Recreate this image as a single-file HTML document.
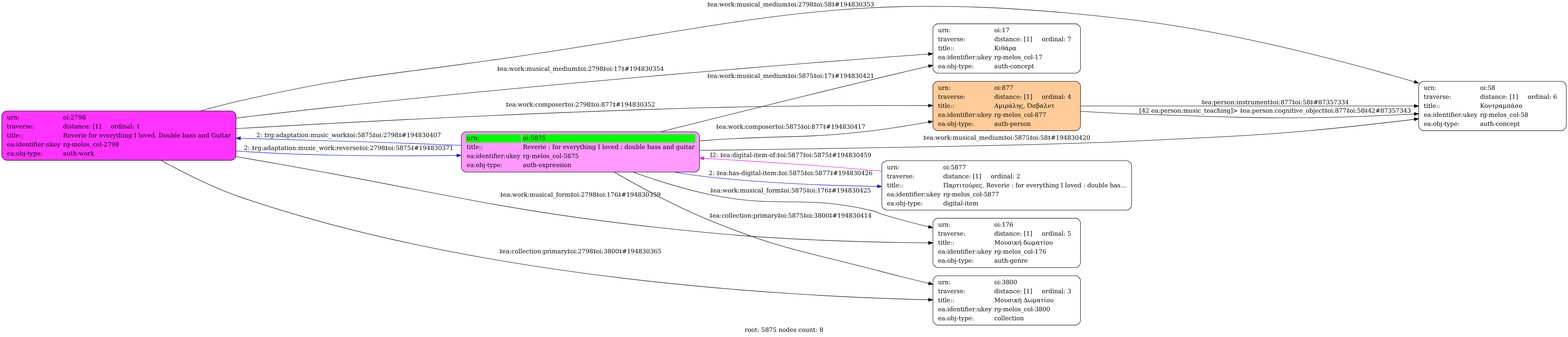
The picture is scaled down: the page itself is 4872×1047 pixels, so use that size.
<!DOCTYPE html>
<html><head><meta charset="utf-8"><title>graph</title>
<style>html,body{margin:0;padding:0;background:#fff}svg{display:block;will-change:transform}text{text-rendering:geometricPrecision}</style>
</head><body>
<svg width="4872" height="1047" viewBox="0 0 3654 785.25">
<g id="graph0" class="graph" transform="scale(1 1) rotate(0) translate(4 781)">
<polygon fill="white" stroke="transparent" points="-4,4 -4,-781 3650,-781 3650,4 -4,4"/>
<text text-anchor="middle" x="1823" y="-7.8" font-family="DejaVu Serif, serif" font-size="14.00">root: 5875 nodes count: 8</text>
<g id="node1" class="node">
<path fill="white" stroke="black" d="M2182,-725.5H2502C2508,-725.5 2514,-719.5 2514,-713.5V-622.5C2514,-616.5 2508,-610.5 2502,-610.5H2182C2176,-610.5 2170,-616.5 2170,-622.5V-713.5C2170,-719.5 2176,-725.5 2182,-725.5Z"/>
<text text-anchor="start" x="2182" y="-705.8" font-family="DejaVu Serif, serif" font-size="14.00">urn:</text>
<text text-anchor="start" x="2313" y="-705.8" font-family="DejaVu Serif, serif" font-size="14.00">oi:17</text>
<text text-anchor="start" x="2182" y="-684.8" font-family="DejaVu Serif, serif" font-size="14.00">traverse:</text>
<text text-anchor="start" x="2313" y="-684.8" font-family="DejaVu Serif, serif" font-size="14.00">distance: [1]     ordinal: 7  </text>
<text text-anchor="start" x="2182" y="-663.8" font-family="DejaVu Serif, serif" font-size="14.00">title::</text>
<text text-anchor="start" x="2313" y="-663.8" font-family="DejaVu Serif, serif" font-size="14.00">Κιθάρα</text>
<text text-anchor="start" x="2182" y="-642.8" font-family="DejaVu Serif, serif" font-size="14.00">ea:identifier:ukey</text>
<text text-anchor="start" x="2313" y="-642.8" font-family="DejaVu Serif, serif" font-size="14.00">rg&#45;melos_col&#45;17</text>
<text text-anchor="start" x="2182" y="-621.8" font-family="DejaVu Serif, serif" font-size="14.00">ea:obj&#45;type:</text>
<text text-anchor="start" x="2313" y="-621.8" font-family="DejaVu Serif, serif" font-size="14.00">auth&#45;concept</text>
</g>
<g id="node2" class="node">
<path fill="#ff33ff" stroke="black" d="M12,-522.5H534C540,-522.5 546,-516.5 546,-510.5V-419.5C546,-413.5 540,-407.5 534,-407.5H12C6,-407.5 0,-413.5 0,-419.5V-510.5C0,-516.5 6,-522.5 12,-522.5Z"/>
<text text-anchor="start" x="12" y="-502.8" font-family="DejaVu Serif, serif" font-size="14.00">urn:</text>
<text text-anchor="start" x="143" y="-502.8" font-family="DejaVu Serif, serif" font-size="14.00">oi:2798</text>
<text text-anchor="start" x="12" y="-481.8" font-family="DejaVu Serif, serif" font-size="14.00">traverse:</text>
<text text-anchor="start" x="143" y="-481.8" font-family="DejaVu Serif, serif" font-size="14.00">distance: [1]     ordinal: 1  </text>
<text text-anchor="start" x="12" y="-460.8" font-family="DejaVu Serif, serif" font-size="14.00">title::</text>
<text text-anchor="start" x="143" y="-460.8" font-family="DejaVu Serif, serif" font-size="14.00" textLength="390.8" lengthAdjust="spacing">Reverie for everything I loved. Double bass and Guitar</text>
<text text-anchor="start" x="12" y="-439.8" font-family="DejaVu Serif, serif" font-size="14.00">ea:identifier:ukey</text>
<text text-anchor="start" x="143" y="-439.8" font-family="DejaVu Serif, serif" font-size="14.00">rg&#45;melos_col&#45;2798</text>
<text text-anchor="start" x="12" y="-418.8" font-family="DejaVu Serif, serif" font-size="14.00">ea:obj&#45;type:</text>
<text text-anchor="start" x="143" y="-418.8" font-family="DejaVu Serif, serif" font-size="14.00">auth&#45;work</text>
</g>
<g id="edge12" class="edge">
<path fill="none" stroke="black" d="M546.01,-505.81C552.06,-506.56 558.06,-507.29 564,-508 1145.55,-577.24 1837.39,-631.48 2159.38,-655.11"/>
<polygon fill="black" stroke="black" points="2159.51,-658.63 2169.74,-655.87 2160.02,-651.65 2159.51,-658.63"/>
<text text-anchor="middle" x="1348.5" y="-615.8" font-family="DejaVu Serif, serif" font-size="14.00">‡ea:work:musical_medium‡oi:2798‡oi:17‡#194830354</text>
</g>
<g id="node3" class="node">
<path fill="white" stroke="black" d="M3314,-591.5H3634C3640,-591.5 3646,-585.5 3646,-579.5V-488.5C3646,-482.5 3640,-476.5 3634,-476.5H3314C3308,-476.5 3302,-482.5 3302,-488.5V-579.5C3302,-585.5 3308,-591.5 3314,-591.5Z"/>
<text text-anchor="start" x="3314" y="-571.8" font-family="DejaVu Serif, serif" font-size="14.00">urn:</text>
<text text-anchor="start" x="3445" y="-571.8" font-family="DejaVu Serif, serif" font-size="14.00">oi:58</text>
<text text-anchor="start" x="3314" y="-550.8" font-family="DejaVu Serif, serif" font-size="14.00">traverse:</text>
<text text-anchor="start" x="3445" y="-550.8" font-family="DejaVu Serif, serif" font-size="14.00">distance: [1]     ordinal: 6  </text>
<text text-anchor="start" x="3314" y="-529.8" font-family="DejaVu Serif, serif" font-size="14.00">title::</text>
<text text-anchor="start" x="3445" y="-529.8" font-family="DejaVu Serif, serif" font-size="14.00">Κοντραμπάσο</text>
<text text-anchor="start" x="3314" y="-508.8" font-family="DejaVu Serif, serif" font-size="14.00">ea:identifier:ukey</text>
<text text-anchor="start" x="3445" y="-508.8" font-family="DejaVu Serif, serif" font-size="14.00">rg&#45;melos_col&#45;58</text>
<text text-anchor="start" x="3314" y="-487.8" font-family="DejaVu Serif, serif" font-size="14.00">ea:obj&#45;type:</text>
<text text-anchor="start" x="3445" y="-487.8" font-family="DejaVu Serif, serif" font-size="14.00">auth&#45;concept</text>
</g>
<g id="edge16" class="edge">
<path fill="none" stroke="black" d="M465.06,-523.09C497.9,-532.09 531.81,-540.78 564,-548 786.8,-597.94 844.71,-600.5 1071,-631 1760.52,-723.95 1942.03,-816.52 2633,-735 2863.99,-707.75 3123.45,-639.73 3292.08,-590.35"/>
<polygon fill="black" stroke="black" points="3293.19,-593.67 3301.79,-587.49 3291.21,-586.95 3293.19,-593.67"/>
<text text-anchor="middle" x="1838.5" y="-765.8" font-family="DejaVu Serif, serif" font-size="14.00">‡ea:work:musical_medium‡oi:2798‡oi:58‡#194830353</text>
</g>
<g id="node4" class="node">
<path fill="#ffcc99" stroke="black" d="M2182,-591.5H2502C2508,-591.5 2514,-585.5 2514,-579.5V-488.5C2514,-482.5 2508,-476.5 2502,-476.5H2182C2176,-476.5 2170,-482.5 2170,-488.5V-579.5C2170,-585.5 2176,-591.5 2182,-591.5Z"/>
<text text-anchor="start" x="2182" y="-571.8" font-family="DejaVu Serif, serif" font-size="14.00">urn:</text>
<text text-anchor="start" x="2313" y="-571.8" font-family="DejaVu Serif, serif" font-size="14.00">oi:877</text>
<text text-anchor="start" x="2182" y="-550.8" font-family="DejaVu Serif, serif" font-size="14.00">traverse:</text>
<text text-anchor="start" x="2313" y="-550.8" font-family="DejaVu Serif, serif" font-size="14.00">distance: [1]     ordinal: 4  </text>
<text text-anchor="start" x="2182" y="-529.8" font-family="DejaVu Serif, serif" font-size="14.00">title::</text>
<text text-anchor="start" x="2313" y="-529.8" font-family="DejaVu Serif, serif" font-size="14.00">Αμιράλης, Όσβαλντ</text>
<text text-anchor="start" x="2182" y="-508.8" font-family="DejaVu Serif, serif" font-size="14.00">ea:identifier:ukey</text>
<text text-anchor="start" x="2313" y="-508.8" font-family="DejaVu Serif, serif" font-size="14.00">rg&#45;melos_col&#45;877</text>
<text text-anchor="start" x="2182" y="-487.8" font-family="DejaVu Serif, serif" font-size="14.00">ea:obj&#45;type:</text>
<text text-anchor="start" x="2313" y="-487.8" font-family="DejaVu Serif, serif" font-size="14.00">auth&#45;person</text>
</g>
<g id="edge4" class="edge">
<path fill="none" stroke="black" d="M546.16,-481.26C822.52,-496.98 1262.85,-519.87 1644,-530 1819.13,-534.66 2019.09,-535.32 2159.79,-535.03"/>
<polygon fill="black" stroke="black" points="2159.83,-538.53 2169.82,-535 2159.81,-531.53 2159.83,-538.53"/>
<text text-anchor="middle" x="1348.5" y="-532.8" font-family="DejaVu Serif, serif" font-size="14.00">‡ea:work:composer‡oi:2798‡oi:877‡#194830352</text>
</g>
<g id="node5" class="node">
<path fill="#ff99ff" stroke="black" d="M1083,-474H1614C1620,-474 1626,-468 1626,-462V-392C1626,-386 1620,-380 1614,-380H1083C1077,-380 1071,-386 1071,-392V-462C1071,-468 1077,-474 1083,-474Z"/>
<polygon fill="#00ff00" stroke="transparent" points="1081.5,-449 1081.5,-468 1210.5,-468 1210.5,-449 1081.5,-449"/>
<text text-anchor="start" x="1083.5" y="-454.8" font-family="DejaVu Serif, serif" font-size="14.00">urn:</text>
<polygon fill="#00ff00" stroke="transparent" points="1212.5,-449 1212.5,-468 1616.5,-468 1616.5,-449 1212.5,-449"/>
<text text-anchor="start" x="1214.5" y="-454.8" font-family="DejaVu Serif, serif" font-size="14.00">oi:5875</text>
<text text-anchor="start" x="1083.5" y="-433.8" font-family="DejaVu Serif, serif" font-size="14.00">title::</text>
<text text-anchor="start" x="1214.5" y="-433.8" font-family="DejaVu Serif, serif" font-size="14.00" textLength="400.25" lengthAdjust="spacing">Reverie : for everything I loved : double bass and guitar</text>
<text text-anchor="start" x="1083.5" y="-412.8" font-family="DejaVu Serif, serif" font-size="14.00">ea:identifier:ukey</text>
<text text-anchor="start" x="1214.5" y="-412.8" font-family="DejaVu Serif, serif" font-size="14.00">rg&#45;melos_col&#45;5875</text>
<text text-anchor="start" x="1083.5" y="-391.8" font-family="DejaVu Serif, serif" font-size="14.00">ea:obj&#45;type:</text>
<text text-anchor="start" x="1214.5" y="-391.8" font-family="DejaVu Serif, serif" font-size="14.00">auth&#45;expression</text>
</g>
<g id="edge14" class="edge">
<path fill="none" stroke="blue" d="M546.36,-429.24C552.29,-428.79 558.18,-428.37 564,-428 728.21,-417.46 912.18,-416.66 1060.57,-418.75"/>
<polygon fill="blue" stroke="blue" points="1060.69,-422.25 1070.74,-418.89 1060.79,-415.25 1060.69,-422.25"/>
<text text-anchor="middle" x="808.5" y="-431.8" font-family="DejaVu Serif, serif" font-size="14.00">2: ‡rg:adaptation:music_work:reverse‡oi:2798‡oi:5875‡#194830371</text>
</g>
<g id="node6" class="node">
<path fill="white" stroke="black" d="M2182,-272.5H2502C2508,-272.5 2514,-266.5 2514,-260.5V-169.5C2514,-163.5 2508,-157.5 2502,-157.5H2182C2176,-157.5 2170,-163.5 2170,-169.5V-260.5C2170,-266.5 2176,-272.5 2182,-272.5Z"/>
<text text-anchor="start" x="2182" y="-252.8" font-family="DejaVu Serif, serif" font-size="14.00">urn:</text>
<text text-anchor="start" x="2313" y="-252.8" font-family="DejaVu Serif, serif" font-size="14.00">oi:176</text>
<text text-anchor="start" x="2182" y="-231.8" font-family="DejaVu Serif, serif" font-size="14.00">traverse:</text>
<text text-anchor="start" x="2313" y="-231.8" font-family="DejaVu Serif, serif" font-size="14.00">distance: [1]     ordinal: 5  </text>
<text text-anchor="start" x="2182" y="-210.8" font-family="DejaVu Serif, serif" font-size="14.00">title::</text>
<text text-anchor="start" x="2313" y="-210.8" font-family="DejaVu Serif, serif" font-size="14.00">Μουσική δωματίου</text>
<text text-anchor="start" x="2182" y="-189.8" font-family="DejaVu Serif, serif" font-size="14.00">ea:identifier:ukey</text>
<text text-anchor="start" x="2313" y="-189.8" font-family="DejaVu Serif, serif" font-size="14.00">rg&#45;melos_col&#45;176</text>
<text text-anchor="start" x="2182" y="-168.8" font-family="DejaVu Serif, serif" font-size="14.00">ea:obj&#45;type:</text>
<text text-anchor="start" x="2313" y="-168.8" font-family="DejaVu Serif, serif" font-size="14.00">auth&#45;genre</text>
</g>
<g id="edge3" class="edge">
<path fill="none" stroke="black" d="M546.04,-416.07C552.08,-415.03 558.08,-414.01 564,-413 1043.3,-331.43 1160.1,-286.12 1644,-239 1818.61,-222 2018.86,-216.55 2159.77,-215.03"/>
<polygon fill="black" stroke="black" points="2159.85,-218.53 2169.82,-214.93 2159.78,-211.53 2159.85,-218.53"/>
<text text-anchor="middle" x="1348.5" y="-322.8" font-family="DejaVu Serif, serif" font-size="14.00">‡ea:work:musical_form‡oi:2798‡oi:176‡#194830359</text>
</g>
<g id="node7" class="node">
<path fill="white" stroke="black" d="M2182,-138.5H2502C2508,-138.5 2514,-132.5 2514,-126.5V-35.5C2514,-29.5 2508,-23.5 2502,-23.5H2182C2176,-23.5 2170,-29.5 2170,-35.5V-126.5C2170,-132.5 2176,-138.5 2182,-138.5Z"/>
<text text-anchor="start" x="2182" y="-118.8" font-family="DejaVu Serif, serif" font-size="14.00">urn:</text>
<text text-anchor="start" x="2313" y="-118.8" font-family="DejaVu Serif, serif" font-size="14.00">oi:3800</text>
<text text-anchor="start" x="2182" y="-97.8" font-family="DejaVu Serif, serif" font-size="14.00">traverse:</text>
<text text-anchor="start" x="2313" y="-97.8" font-family="DejaVu Serif, serif" font-size="14.00">distance: [1]     ordinal: 3  </text>
<text text-anchor="start" x="2182" y="-76.8" font-family="DejaVu Serif, serif" font-size="14.00">title::</text>
<text text-anchor="start" x="2313" y="-76.8" font-family="DejaVu Serif, serif" font-size="14.00">Μουσική Δωματίου</text>
<text text-anchor="start" x="2182" y="-55.8" font-family="DejaVu Serif, serif" font-size="14.00">ea:identifier:ukey</text>
<text text-anchor="start" x="2313" y="-55.8" font-family="DejaVu Serif, serif" font-size="14.00">rg&#45;melos_col&#45;3800</text>
<text text-anchor="start" x="2182" y="-34.8" font-family="DejaVu Serif, serif" font-size="14.00">ea:obj&#45;type:</text>
<text text-anchor="start" x="2313" y="-34.8" font-family="DejaVu Serif, serif" font-size="14.00">collection</text>
</g>
<g id="edge11" class="edge">
<path fill="none" stroke="black" d="M371.99,-406.97C426.82,-376.75 497.38,-341.51 564,-319 1124.56,-129.61 1832.44,-90.26 2159.77,-82.54"/>
<polygon fill="black" stroke="black" points="2159.9,-86.04 2169.82,-82.31 2159.74,-79.04 2159.9,-86.04"/>
<text text-anchor="middle" x="1348.5" y="-190.8" font-family="DejaVu Serif, serif" font-size="14.00">‡ea:collection:primary‡oi:2798‡oi:3800‡#194830365</text>
</g>
<g id="edge5" class="edge">
<path fill="none" stroke="black" d="M2514.39,-521.6C2558.85,-518.9 2606.7,-516.3 2651,-515 2932.21,-506.2 3002.98,-501.1 3284,-514.9 3286.56,-515.05 3289.13,-515.2 3291.72,-515.39"/>
<polygon fill="black" stroke="black" points="3291.6,-518.89 3301.78,-515.97 3292,-511.9 3291.6,-518.89"/>
<text text-anchor="middle" x="2967.5" y="-518.2" font-family="DejaVu Serif, serif" font-size="14.00">[42 ea:person:music_teaching]&gt; ‡ea:person:cognitive_object‡oi:877‡oi:58‡42#87357343</text>
</g>
<g id="edge6" class="edge">
<path fill="none" stroke="black" d="M2514.01,-534C2723.69,-534 3077.55,-534 3291.78,-534"/>
<polygon fill="black" stroke="black" points="3291.88,-537.5 3301.88,-534 3291.88,-530.5 3291.88,-537.5"/>
<text text-anchor="middle" x="2967.5" y="-537.8" font-family="DejaVu Serif, serif" font-size="14.00">‡ea:person:instrument‡oi:877‡oi:58‡#87357334</text>
</g>
<g id="edge13" class="edge">
<path fill="none" stroke="black" d="M1537.62,-474.53C1678.76,-509.98 1876.81,-559.28 2051,-601 2086.14,-609.42 2123.72,-618.23 2159.78,-626.61"/>
<polygon fill="black" stroke="black" points="2159.38,-630.1 2169.91,-628.95 2160.96,-623.29 2159.38,-630.1"/>
<text text-anchor="middle" x="1838.5" y="-599.8" font-family="DejaVu Serif, serif" font-size="14.00">‡ea:work:musical_medium‡oi:5875‡oi:17‡#194830421</text>
</g>
<g id="edge15" class="edge">
<path fill="none" stroke="blue" d="M1070.83,-442.24C1064.83,-442.5 1058.88,-442.76 1053,-443 888.48,-449.79 704.32,-455.1 556.39,-458.8"/>
<polygon fill="blue" stroke="blue" points="556.16,-455.3 546.25,-459.05 556.33,-462.3 556.16,-455.3"/>
<text text-anchor="middle" x="808.5" y="-461.8" font-family="DejaVu Serif, serif" font-size="14.00">2: ‡rg:adaptation:music_work‡oi:5875‡oi:2798‡#194830407</text>
</g>
<g id="edge2" class="edge">
<path fill="none" stroke="black" d="M1626.17,-430.49C1943.58,-434.82 2444.48,-442.79 2633,-452 2922.87,-466 2995.88,-467.6 3284,-502 3286.56,-502.31 3289.15,-502.63 3291.74,-502.96"/>
<polygon fill="black" stroke="black" points="3291.46,-506.45 3301.82,-504.27 3292.36,-499.51 3291.46,-506.45"/>
<text text-anchor="middle" x="2342" y="-455.8" font-family="DejaVu Serif, serif" font-size="14.00">‡ea:work:musical_medium‡oi:5875‡oi:58‡#194830420</text>
</g>
<g id="edge8" class="edge">
<path fill="none" stroke="black" d="M1626.16,-452.63C1632.16,-453.1 1638.11,-453.56 1644,-454 1816.7,-467.02 1861.08,-456.09 2033,-477 2074.23,-482.01 2118.27,-489.11 2159.78,-496.6"/>
<polygon fill="black" stroke="black" points="2159.25,-500.06 2169.71,-498.41 2160.5,-493.17 2159.25,-500.06"/>
<text text-anchor="middle" x="1838.5" y="-480.8" font-family="DejaVu Serif, serif" font-size="14.00">‡ea:work:composer‡oi:5875‡oi:877‡#194830417</text>
</g>
<g id="edge9" class="edge">
<path fill="none" stroke="black" d="M1472.5,-379.39C1524.67,-360.95 1586.58,-341.35 1644,-329 1813.91,-292.45 1864.04,-329.75 2033,-289 2041.34,-286.99 2042.8,-284.53 2051,-282 2085.76,-271.29 2123.32,-261.4 2159.52,-252.7"/>
<polygon fill="black" stroke="black" points="2160.78,-256 2169.7,-250.27 2159.16,-249.19 2160.78,-256"/>
<text text-anchor="middle" x="1838.5" y="-332.8" font-family="DejaVu Serif, serif" font-size="14.00">‡ea:work:musical_form‡oi:5875‡oi:176‡#194830425</text>
</g>
<g id="edge10" class="edge">
<path fill="none" stroke="black" d="M1428.35,-379.42C1486.5,-345.72 1568.32,-301.15 1644,-270 1818.62,-198.12 1868.46,-196.39 2051,-148 2086.04,-138.71 2123.65,-129.48 2159.8,-120.98"/>
<polygon fill="black" stroke="black" points="2161.02,-124.29 2169.95,-118.6 2159.42,-117.47 2161.02,-124.29"/>
<text text-anchor="middle" x="1838.5" y="-273.8" font-family="DejaVu Serif, serif" font-size="14.00">‡ea:collection:primary‡oi:5875‡oi:3800‡#194830414</text>
</g>
<g id="node8" class="node">
<path fill="white" stroke="black" d="M2063,-406.5H2621C2627,-406.5 2633,-400.5 2633,-394.5V-303.5C2633,-297.5 2627,-291.5 2621,-291.5H2063C2057,-291.5 2051,-297.5 2051,-303.5V-394.5C2051,-400.5 2057,-406.5 2063,-406.5Z"/>
<text text-anchor="start" x="2063" y="-386.8" font-family="DejaVu Serif, serif" font-size="14.00">urn:</text>
<text text-anchor="start" x="2194" y="-386.8" font-family="DejaVu Serif, serif" font-size="14.00">oi:5877</text>
<text text-anchor="start" x="2063" y="-365.8" font-family="DejaVu Serif, serif" font-size="14.00">traverse:</text>
<text text-anchor="start" x="2194" y="-365.8" font-family="DejaVu Serif, serif" font-size="14.00">distance: [1]     ordinal: 2  </text>
<text text-anchor="start" x="2063" y="-344.8" font-family="DejaVu Serif, serif" font-size="14.00">title::</text>
<text text-anchor="start" x="2194" y="-344.8" font-family="DejaVu Serif, serif" font-size="14.00" textLength="426.2" lengthAdjust="spacing">Παρτιτούρες. Reverie : for everything I loved : double bas...</text>
<text text-anchor="start" x="2063" y="-323.8" font-family="DejaVu Serif, serif" font-size="14.00">ea:identifier:ukey</text>
<text text-anchor="start" x="2194" y="-323.8" font-family="DejaVu Serif, serif" font-size="14.00">rg&#45;melos_col&#45;5877</text>
<text text-anchor="start" x="2063" y="-302.8" font-family="DejaVu Serif, serif" font-size="14.00">ea:obj&#45;type:</text>
<text text-anchor="start" x="2194" y="-302.8" font-family="DejaVu Serif, serif" font-size="14.00">digital&#45;item</text>
</g>
<g id="edge1" class="edge">
<path fill="none" stroke="blue" d="M1570,-379.47C1594.87,-375.33 1619.92,-371.7 1644,-369 1773.45,-354.5 1917.21,-348.65 2040.39,-346.75"/>
<polygon fill="blue" stroke="blue" points="2040.78,-350.24 2050.73,-346.6 2040.68,-343.25 2040.78,-350.24"/>
<text text-anchor="middle" x="1838.5" y="-372.8" font-family="DejaVu Serif, serif" font-size="14.00">2: ‡ea:has&#45;digital&#45;item:‡oi:5875‡oi:5877‡#194830426</text>
</g>
<g id="edge7" class="edge">
<path fill="none" stroke="magenta" d="M2050.86,-382.38C2044.86,-382.94 2038.9,-383.48 2033,-384 1902.97,-395.47 1758.76,-405.01 1636.44,-412.17"/>
<polygon fill="magenta" stroke="magenta" points="1635.96,-408.69 1626.18,-412.77 1636.37,-415.68 1635.96,-408.69"/>
<text text-anchor="middle" x="1838.5" y="-414.8" font-family="DejaVu Serif, serif" font-size="14.00">I2: ‡ea:digital&#45;item&#45;of:‡oi:5877‡oi:5875‡#194830459</text>
</g>
</g>
</svg>

</body></html>
